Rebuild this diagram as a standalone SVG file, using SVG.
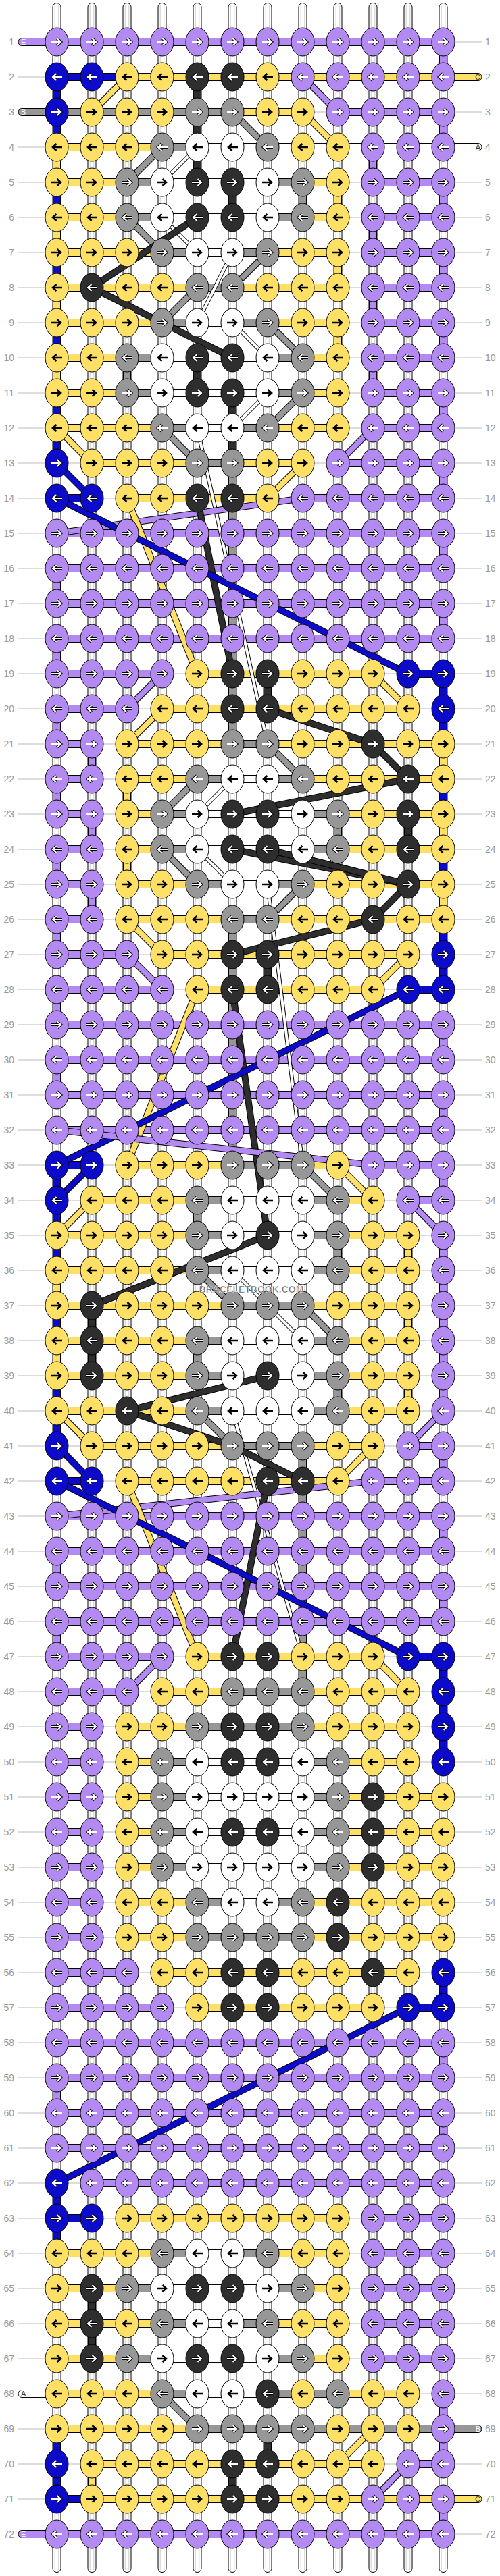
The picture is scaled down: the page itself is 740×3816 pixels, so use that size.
<svg xmlns="http://www.w3.org/2000/svg" width="740" height="3816" viewBox="0 0 740 3816">
<style>
text{font-family:"Liberation Sans",Arial,sans-serif}
.lb{font-size:14px;fill:#999}
.le{text-anchor:end}
.ll{stroke:#bbb;stroke-width:1;fill:none}
.st{fill:#fff;stroke:#000;stroke-width:1}
.si{fill:none;stroke:#ccc;stroke-width:1}
#seg rect{stroke:#000;stroke-width:1}
.P{fill:#b38af2}.Y{fill:#ffe066}.N{fill:#0b0bc9}.K{fill:#2e2e2e}.G{fill:#979797}.W{fill:#fff}
ellipse{stroke:#000;stroke-width:1}
.wo{fill:none;stroke:#000;stroke-width:4.2}
.wi{fill:none;stroke:#fff;stroke-width:2.2}
.bk{fill:none;stroke:#000;stroke-width:2.6}
.o{fill:none;stroke:#000;stroke-width:10}
.ot{fill:none;stroke:#000;stroke-width:6}
.dP{fill:none;stroke:#b38af2;stroke-width:8}
.dY{fill:none;stroke:#ffe066;stroke-width:8}
.dN{fill:none;stroke:#0b0bc9;stroke-width:8}
.dK{fill:none;stroke:#2e2e2e;stroke-width:8}
.dG{fill:none;stroke:#979797;stroke-width:8}
.dW{fill:none;stroke:#fff;stroke-width:4}
.sl{font-size:11px}
</style>
<defs>
<path id="aR" d="M-8 0H5.5M0.5-5L6 0L0.5 5"/>
<path id="aL" d="M8 0H-5.5M-0.5-5L-6 0L-0.5 5"/>
<g id="P1"><ellipse class="P" rx="17" ry="21"/><use href="#aR" class="wo"/><use href="#aR" class="wi"/></g>
<g id="P0"><ellipse class="P" rx="17" ry="21"/><use href="#aL" class="wo"/><use href="#aL" class="wi"/></g>
<g id="N1"><ellipse class="N" rx="17" ry="21"/><use href="#aR" class="wo"/><use href="#aR" class="wi"/></g>
<g id="N0"><ellipse class="N" rx="17" ry="21"/><use href="#aL" class="wo"/><use href="#aL" class="wi"/></g>
<g id="K1"><ellipse class="K" rx="17" ry="21"/><use href="#aR" class="wo"/><use href="#aR" class="wi"/></g>
<g id="K0"><ellipse class="K" rx="17" ry="21"/><use href="#aL" class="wo"/><use href="#aL" class="wi"/></g>
<g id="G1"><ellipse class="G" rx="17" ry="21"/><use href="#aR" class="wo"/><use href="#aR" class="wi"/></g>
<g id="G0"><ellipse class="G" rx="17" ry="21"/><use href="#aL" class="wo"/><use href="#aL" class="wi"/></g>
<g id="Y1"><ellipse class="Y" rx="17" ry="21"/><use href="#aR" class="bk"/></g>
<g id="Y0"><ellipse class="Y" rx="17" ry="21"/><use href="#aL" class="bk"/></g>
<g id="W1"><ellipse class="W" rx="17" ry="21"/><use href="#aR" class="bk"/></g>
<g id="W0"><ellipse class="W" rx="17" ry="21"/><use href="#aL" class="bk"/></g>
</defs>
<rect width="740" height="3816" fill="#fff"/>
<path class="ll" d="M26 62H714M26 114H714M26 166H714M26 218H714M26 270H714M26 322H714M26 374H714M26 426H714M26 478H714M26 530H714M26 582H714M26 634H714M26 686H714M26 738H714M26 790H714M26 842H714M26 894H714M26 946H714M26 998H714M26 1050H714M26 1102H714M26 1154H714M26 1206H714M26 1258H714M26 1310H714M26 1362H714M26 1414H714M26 1466H714M26 1518H714M26 1570H714M26 1622H714M26 1674H714M26 1726H714M26 1778H714M26 1830H714M26 1882H714M26 1934H714M26 1986H714M26 2038H714M26 2090H714M26 2142H714M26 2194H714M26 2246H714M26 2298H714M26 2350H714M26 2402H714M26 2454H714M26 2506H714M26 2558H714M26 2610H714M26 2662H714M26 2714H714M26 2766H714M26 2818H714M26 2870H714M26 2922H714M26 2974H714M26 3026H714M26 3078H714M26 3130H714M26 3182H714M26 3234H714M26 3286H714M26 3338H714M26 3390H714M26 3442H714M26 3494H714M26 3546H714M26 3598H714M26 3650H714M26 3702H714M26 3754H714"/>
<g id="labels" class="lb">
<g class="le"><text x="21" y="67">1</text><text x="21" y="119">2</text><text x="21" y="171">3</text><text x="21" y="223">4</text><text x="21" y="275">5</text><text x="21" y="327">6</text><text x="21" y="379">7</text><text x="21" y="431">8</text><text x="21" y="483">9</text><text x="21" y="535">10</text><text x="21" y="587">11</text><text x="21" y="639">12</text><text x="21" y="691">13</text><text x="21" y="743">14</text><text x="21" y="795">15</text><text x="21" y="847">16</text><text x="21" y="899">17</text><text x="21" y="951">18</text><text x="21" y="1003">19</text><text x="21" y="1055">20</text><text x="21" y="1107">21</text><text x="21" y="1159">22</text><text x="21" y="1211">23</text><text x="21" y="1263">24</text><text x="21" y="1315">25</text><text x="21" y="1367">26</text><text x="21" y="1419">27</text><text x="21" y="1471">28</text><text x="21" y="1523">29</text><text x="21" y="1575">30</text><text x="21" y="1627">31</text><text x="21" y="1679">32</text><text x="21" y="1731">33</text><text x="21" y="1783">34</text><text x="21" y="1835">35</text><text x="21" y="1887">36</text><text x="21" y="1939">37</text><text x="21" y="1991">38</text><text x="21" y="2043">39</text><text x="21" y="2095">40</text><text x="21" y="2147">41</text><text x="21" y="2199">42</text><text x="21" y="2251">43</text><text x="21" y="2303">44</text><text x="21" y="2355">45</text><text x="21" y="2407">46</text><text x="21" y="2459">47</text><text x="21" y="2511">48</text><text x="21" y="2563">49</text><text x="21" y="2615">50</text><text x="21" y="2667">51</text><text x="21" y="2719">52</text><text x="21" y="2771">53</text><text x="21" y="2823">54</text><text x="21" y="2875">55</text><text x="21" y="2927">56</text><text x="21" y="2979">57</text><text x="21" y="3031">58</text><text x="21" y="3083">59</text><text x="21" y="3135">60</text><text x="21" y="3187">61</text><text x="21" y="3239">62</text><text x="21" y="3291">63</text><text x="21" y="3343">64</text><text x="21" y="3395">65</text><text x="21" y="3447">66</text><text x="21" y="3499">67</text><text x="21" y="3551">68</text><text x="21" y="3603">69</text><text x="21" y="3655">70</text><text x="21" y="3707">71</text><text x="21" y="3759">72</text></g>
<g><text x="718" y="67">1</text><text x="718" y="119">2</text><text x="718" y="171">3</text><text x="718" y="223">4</text><text x="718" y="275">5</text><text x="718" y="327">6</text><text x="718" y="379">7</text><text x="718" y="431">8</text><text x="718" y="483">9</text><text x="718" y="535">10</text><text x="718" y="587">11</text><text x="718" y="639">12</text><text x="718" y="691">13</text><text x="718" y="743">14</text><text x="718" y="795">15</text><text x="718" y="847">16</text><text x="718" y="899">17</text><text x="718" y="951">18</text><text x="718" y="1003">19</text><text x="718" y="1055">20</text><text x="718" y="1107">21</text><text x="718" y="1159">22</text><text x="718" y="1211">23</text><text x="718" y="1263">24</text><text x="718" y="1315">25</text><text x="718" y="1367">26</text><text x="718" y="1419">27</text><text x="718" y="1471">28</text><text x="718" y="1523">29</text><text x="718" y="1575">30</text><text x="718" y="1627">31</text><text x="718" y="1679">32</text><text x="718" y="1731">33</text><text x="718" y="1783">34</text><text x="718" y="1835">35</text><text x="718" y="1887">36</text><text x="718" y="1939">37</text><text x="718" y="1991">38</text><text x="718" y="2043">39</text><text x="718" y="2095">40</text><text x="718" y="2147">41</text><text x="718" y="2199">42</text><text x="718" y="2251">43</text><text x="718" y="2303">44</text><text x="718" y="2355">45</text><text x="718" y="2407">46</text><text x="718" y="2459">47</text><text x="718" y="2511">48</text><text x="718" y="2563">49</text><text x="718" y="2615">50</text><text x="718" y="2667">51</text><text x="718" y="2719">52</text><text x="718" y="2771">53</text><text x="718" y="2823">54</text><text x="718" y="2875">55</text><text x="718" y="2927">56</text><text x="718" y="2979">57</text><text x="718" y="3031">58</text><text x="718" y="3083">59</text><text x="718" y="3135">60</text><text x="718" y="3187">61</text><text x="718" y="3239">62</text><text x="718" y="3291">63</text><text x="718" y="3343">64</text><text x="718" y="3395">65</text><text x="718" y="3447">66</text><text x="718" y="3499">67</text><text x="718" y="3551">68</text><text x="718" y="3603">69</text><text x="718" y="3655">70</text><text x="718" y="3707">71</text><text x="718" y="3759">72</text></g>
</g>
<g id="connectors">
<g id="strings">
<rect class="st" x="78" y="4.5" width="12" height="3806" rx="6"/><rect class="st" x="130" y="4.5" width="12" height="3806" rx="6"/><rect class="st" x="182" y="4.5" width="12" height="3806" rx="6"/><rect class="st" x="234" y="4.5" width="12" height="3806" rx="6"/><rect class="st" x="286" y="4.5" width="12" height="3806" rx="6"/><rect class="st" x="338" y="4.5" width="12" height="3806" rx="6"/><rect class="st" x="390" y="4.5" width="12" height="3806" rx="6"/><rect class="st" x="442" y="4.5" width="12" height="3806" rx="6"/><rect class="st" x="494" y="4.5" width="12" height="3806" rx="6"/><rect class="st" x="546" y="4.5" width="12" height="3806" rx="6"/><rect class="st" x="598" y="4.5" width="12" height="3806" rx="6"/><rect class="st" x="650" y="4.5" width="12" height="3806" rx="6"/>
<path class="si" d="M81.2 8V3807M86.8 8V3807M133.2 8V3807M138.8 8V3807M185.2 8V3807M190.8 8V3807M237.2 8V3807M242.8 8V3807M289.2 8V3807M294.8 8V3807M341.2 8V3807M346.8 8V3807M393.2 8V3807M398.8 8V3807M445.2 8V3807M450.8 8V3807M497.2 8V3807M502.8 8V3807M549.2 8V3807M554.8 8V3807M601.2 8V3807M606.8 8V3807M653.2 8V3807M658.8 8V3807"/>
</g>
<g id="seg">
<rect class="P" x="27" y="56.5" width="62" height="11" rx="5.5"/>
<rect class="Y" x="651" y="108.5" width="62" height="11" rx="5.5"/>
<rect class="G" x="27" y="160.5" width="62" height="11" rx="5.5"/>
<rect class="W" x="651" y="212.5" width="62" height="11" rx="5.5"/>
<rect class="W" x="27" y="3540.5" width="62" height="11" rx="5.5"/>
<rect class="G" x="651" y="3592.5" width="62" height="11" rx="5.5"/>
<rect class="Y" x="651" y="3696.5" width="62" height="11" rx="5.5"/>
<rect class="P" x="27" y="3748.5" width="62" height="11" rx="5.5"/>
<g transform="translate(0,62)"><rect class="P" x="84" y="-5.5" width="572" height="11"/><rect class="P" x="650.5" y="0" width="11" height="52"/></g>
<g transform="translate(0,114)"><rect class="N" x="84" y="-5.5" width="104" height="11"/><rect class="Y" x="188" y="-5.5" width="468" height="11"/><rect class="N" x="78.5" y="0" width="11" height="52"/><rect class="K" x="286.5" y="0" width="11" height="52"/></g>
<g transform="translate(0,166)"><rect class="G" x="84" y="-5.5" width="260" height="11"/><rect class="Y" x="344" y="-5.5" width="104" height="11"/><rect class="P" x="500" y="-5.5" width="156" height="11"/><rect class="N" x="78.5" y="0" width="11" height="52"/><rect class="K" x="286.5" y="0" width="11" height="52"/><rect class="P" x="650.5" y="0" width="11" height="52"/></g>
<g transform="translate(0,218)"><rect class="Y" x="84" y="-5.5" width="156" height="11"/><rect class="G" x="240" y="-5.5" width="52" height="11"/><rect class="W" x="292" y="-5.5" width="364" height="11"/><rect class="Y" x="78.5" y="0" width="11" height="52"/><rect class="K" x="286.5" y="0" width="11" height="52"/><rect class="P" x="546.5" y="0" width="11" height="52"/></g>
<g transform="translate(0,270)"><rect class="Y" x="84" y="-5.5" width="104" height="11"/><rect class="G" x="188" y="-5.5" width="52" height="11"/><rect class="W" x="240" y="-5.5" width="156" height="11"/><rect class="G" x="396" y="-5.5" width="52" height="11"/><rect class="Y" x="448" y="-5.5" width="52" height="11"/><rect class="P" x="552" y="-5.5" width="104" height="11"/><rect class="N" x="78.5" y="0" width="11" height="52"/><rect class="K" x="338.5" y="0" width="11" height="52"/><rect class="G" x="442.5" y="0" width="11" height="52"/><rect class="Y" x="494.5" y="0" width="11" height="52"/><rect class="P" x="650.5" y="0" width="11" height="52"/></g>
<g transform="translate(0,322)"><rect class="Y" x="84" y="-5.5" width="104" height="11"/><rect class="G" x="188" y="-5.5" width="52" height="11"/><rect class="W" x="240" y="-5.5" width="156" height="11"/><rect class="G" x="396" y="-5.5" width="52" height="11"/><rect class="Y" x="448" y="-5.5" width="52" height="11"/><rect class="P" x="552" y="-5.5" width="104" height="11"/><rect class="Y" x="78.5" y="0" width="11" height="52"/><rect class="P" x="546.5" y="0" width="11" height="52"/></g>
<g transform="translate(0,374)"><rect class="Y" x="84" y="-5.5" width="156" height="11"/><rect class="G" x="240" y="-5.5" width="52" height="11"/><rect class="W" x="292" y="-5.5" width="52" height="11"/><rect class="G" x="344" y="-5.5" width="52" height="11"/><rect class="Y" x="396" y="-5.5" width="104" height="11"/><rect class="P" x="552" y="-5.5" width="104" height="11"/><rect class="N" x="78.5" y="0" width="11" height="52"/><rect class="Y" x="494.5" y="0" width="11" height="52"/><rect class="P" x="650.5" y="0" width="11" height="52"/></g>
<g transform="translate(0,426)"><rect class="Y" x="84" y="-5.5" width="208" height="11"/><rect class="G" x="292" y="-5.5" width="52" height="11"/><rect class="Y" x="344" y="-5.5" width="156" height="11"/><rect class="P" x="552" y="-5.5" width="104" height="11"/><rect class="Y" x="78.5" y="0" width="11" height="52"/><rect class="P" x="546.5" y="0" width="11" height="52"/></g>
<g transform="translate(0,478)"><rect class="Y" x="84" y="-5.5" width="156" height="11"/><rect class="G" x="240" y="-5.5" width="52" height="11"/><rect class="W" x="292" y="-5.5" width="52" height="11"/><rect class="G" x="344" y="-5.5" width="52" height="11"/><rect class="Y" x="396" y="-5.5" width="104" height="11"/><rect class="P" x="552" y="-5.5" width="104" height="11"/><rect class="N" x="78.5" y="0" width="11" height="52"/><rect class="Y" x="494.5" y="0" width="11" height="52"/><rect class="P" x="650.5" y="0" width="11" height="52"/></g>
<g transform="translate(0,530)"><rect class="Y" x="84" y="-5.5" width="104" height="11"/><rect class="G" x="188" y="-5.5" width="52" height="11"/><rect class="W" x="240" y="-5.5" width="156" height="11"/><rect class="G" x="396" y="-5.5" width="52" height="11"/><rect class="Y" x="448" y="-5.5" width="52" height="11"/><rect class="P" x="552" y="-5.5" width="104" height="11"/><rect class="Y" x="78.5" y="0" width="11" height="52"/><rect class="G" x="182.5" y="0" width="11" height="52"/><rect class="K" x="286.5" y="0" width="11" height="52"/><rect class="P" x="546.5" y="0" width="11" height="52"/></g>
<g transform="translate(0,582)"><rect class="Y" x="84" y="-5.5" width="104" height="11"/><rect class="G" x="188" y="-5.5" width="52" height="11"/><rect class="W" x="240" y="-5.5" width="156" height="11"/><rect class="G" x="396" y="-5.5" width="52" height="11"/><rect class="Y" x="448" y="-5.5" width="52" height="11"/><rect class="P" x="552" y="-5.5" width="104" height="11"/><rect class="N" x="78.5" y="0" width="11" height="52"/><rect class="K" x="338.5" y="0" width="11" height="52"/><rect class="P" x="650.5" y="0" width="11" height="52"/></g>
<g transform="translate(0,634)"><rect class="Y" x="84" y="-5.5" width="156" height="11"/><rect class="G" x="240" y="-5.5" width="52" height="11"/><rect class="W" x="292" y="-5.5" width="52" height="11"/><rect class="G" x="344" y="-5.5" width="52" height="11"/><rect class="Y" x="396" y="-5.5" width="104" height="11"/><rect class="P" x="552" y="-5.5" width="104" height="11"/><rect class="N" x="78.5" y="0" width="11" height="52"/><rect class="K" x="338.5" y="0" width="11" height="52"/></g>
<g transform="translate(0,686)"><rect class="Y" x="136" y="-5.5" width="156" height="11"/><rect class="G" x="292" y="-5.5" width="52" height="11"/><rect class="Y" x="344" y="-5.5" width="104" height="11"/><rect class="P" x="500" y="-5.5" width="156" height="11"/><rect class="G" x="338.5" y="0" width="11" height="52"/><rect class="P" x="650.5" y="0" width="11" height="52"/></g>
<g transform="translate(0,738)"><rect class="N" x="84" y="-5.5" width="52" height="11"/><rect class="Y" x="188" y="-5.5" width="208" height="11"/><rect class="P" x="448" y="-5.5" width="208" height="11"/><rect class="G" x="338.5" y="0" width="11" height="52"/></g>
<g transform="translate(0,790)"><rect class="P" x="84" y="-5.5" width="572" height="11"/><rect class="G" x="338.5" y="0" width="11" height="52"/><rect class="P" x="650.5" y="0" width="11" height="52"/></g>
<g transform="translate(0,842)"><rect class="P" x="84" y="-5.5" width="572" height="11"/><rect class="P" x="78.5" y="0" width="11" height="52"/><rect class="G" x="338.5" y="0" width="11" height="52"/></g>
<g transform="translate(0,894)"><rect class="P" x="84" y="-5.5" width="572" height="11"/><rect class="G" x="338.5" y="0" width="11" height="52"/><rect class="P" x="650.5" y="0" width="11" height="52"/></g>
<g transform="translate(0,946)"><rect class="P" x="84" y="-5.5" width="572" height="11"/><rect class="P" x="78.5" y="0" width="11" height="52"/><rect class="G" x="338.5" y="0" width="11" height="52"/></g>
<g transform="translate(0,998)"><rect class="P" x="84" y="-5.5" width="156" height="11"/><rect class="Y" x="292" y="-5.5" width="260" height="11"/><rect class="N" x="604" y="-5.5" width="52" height="11"/><rect class="G" x="338.5" y="0" width="11" height="52"/><rect class="K" x="390.5" y="0" width="11" height="52"/><rect class="N" x="650.5" y="0" width="11" height="52"/></g>
<g transform="translate(0,1050)"><rect class="P" x="84" y="-5.5" width="104" height="11"/><rect class="Y" x="240" y="-5.5" width="364" height="11"/><rect class="P" x="78.5" y="0" width="11" height="52"/><rect class="G" x="338.5" y="0" width="11" height="52"/><rect class="N" x="650.5" y="0" width="11" height="52"/></g>
<g transform="translate(0,1102)"><rect class="P" x="84" y="-5.5" width="52" height="11"/><rect class="Y" x="188" y="-5.5" width="156" height="11"/><rect class="G" x="344" y="-5.5" width="52" height="11"/><rect class="Y" x="396" y="-5.5" width="260" height="11"/><rect class="P" x="130.5" y="0" width="11" height="52"/><rect class="Y" x="650.5" y="0" width="11" height="52"/></g>
<g transform="translate(0,1154)"><rect class="P" x="84" y="-5.5" width="52" height="11"/><rect class="Y" x="188" y="-5.5" width="104" height="11"/><rect class="G" x="292" y="-5.5" width="52" height="11"/><rect class="W" x="344" y="-5.5" width="52" height="11"/><rect class="G" x="396" y="-5.5" width="52" height="11"/><rect class="Y" x="448" y="-5.5" width="208" height="11"/><rect class="P" x="78.5" y="0" width="11" height="52"/><rect class="Y" x="182.5" y="0" width="11" height="52"/><rect class="N" x="650.5" y="0" width="11" height="52"/></g>
<g transform="translate(0,1206)"><rect class="P" x="84" y="-5.5" width="52" height="11"/><rect class="Y" x="188" y="-5.5" width="52" height="11"/><rect class="G" x="240" y="-5.5" width="52" height="11"/><rect class="W" x="292" y="-5.5" width="156" height="11"/><rect class="G" x="448" y="-5.5" width="52" height="11"/><rect class="Y" x="500" y="-5.5" width="156" height="11"/><rect class="P" x="130.5" y="0" width="11" height="52"/><rect class="G" x="494.5" y="0" width="11" height="52"/><rect class="K" x="598.5" y="0" width="11" height="52"/><rect class="Y" x="650.5" y="0" width="11" height="52"/></g>
<g transform="translate(0,1258)"><rect class="P" x="84" y="-5.5" width="52" height="11"/><rect class="Y" x="188" y="-5.5" width="52" height="11"/><rect class="G" x="240" y="-5.5" width="52" height="11"/><rect class="W" x="292" y="-5.5" width="156" height="11"/><rect class="G" x="448" y="-5.5" width="52" height="11"/><rect class="Y" x="500" y="-5.5" width="156" height="11"/><rect class="P" x="78.5" y="0" width="11" height="52"/><rect class="Y" x="182.5" y="0" width="11" height="52"/><rect class="N" x="650.5" y="0" width="11" height="52"/></g>
<g transform="translate(0,1310)"><rect class="P" x="84" y="-5.5" width="52" height="11"/><rect class="Y" x="188" y="-5.5" width="104" height="11"/><rect class="G" x="292" y="-5.5" width="52" height="11"/><rect class="W" x="344" y="-5.5" width="52" height="11"/><rect class="G" x="396" y="-5.5" width="52" height="11"/><rect class="Y" x="448" y="-5.5" width="208" height="11"/><rect class="P" x="130.5" y="0" width="11" height="52"/><rect class="Y" x="650.5" y="0" width="11" height="52"/></g>
<g transform="translate(0,1362)"><rect class="P" x="84" y="-5.5" width="52" height="11"/><rect class="Y" x="188" y="-5.5" width="156" height="11"/><rect class="G" x="344" y="-5.5" width="52" height="11"/><rect class="Y" x="396" y="-5.5" width="260" height="11"/><rect class="P" x="78.5" y="0" width="11" height="52"/><rect class="G" x="338.5" y="0" width="11" height="52"/><rect class="N" x="650.5" y="0" width="11" height="52"/></g>
<g transform="translate(0,1414)"><rect class="P" x="84" y="-5.5" width="104" height="11"/><rect class="Y" x="240" y="-5.5" width="364" height="11"/><rect class="G" x="338.5" y="0" width="11" height="52"/><rect class="K" x="390.5" y="0" width="11" height="52"/><rect class="N" x="650.5" y="0" width="11" height="52"/></g>
<g transform="translate(0,1466)"><rect class="P" x="84" y="-5.5" width="156" height="11"/><rect class="Y" x="292" y="-5.5" width="260" height="11"/><rect class="N" x="604" y="-5.5" width="52" height="11"/><rect class="P" x="78.5" y="0" width="11" height="52"/><rect class="G" x="338.5" y="0" width="11" height="52"/></g>
<g transform="translate(0,1518)"><rect class="P" x="84" y="-5.5" width="572" height="11"/><rect class="G" x="338.5" y="0" width="11" height="52"/><rect class="P" x="650.5" y="0" width="11" height="52"/></g>
<g transform="translate(0,1570)"><rect class="P" x="84" y="-5.5" width="572" height="11"/><rect class="P" x="78.5" y="0" width="11" height="52"/><rect class="G" x="338.5" y="0" width="11" height="52"/></g>
<g transform="translate(0,1622)"><rect class="P" x="84" y="-5.5" width="572" height="11"/><rect class="G" x="338.5" y="0" width="11" height="52"/><rect class="P" x="650.5" y="0" width="11" height="52"/></g>
<g transform="translate(0,1674)"><rect class="P" x="84" y="-5.5" width="572" height="11"/><rect class="G" x="338.5" y="0" width="11" height="52"/></g>
<g transform="translate(0,1726)"><rect class="N" x="84" y="-5.5" width="52" height="11"/><rect class="Y" x="188" y="-5.5" width="156" height="11"/><rect class="G" x="344" y="-5.5" width="104" height="11"/><rect class="Y" x="448" y="-5.5" width="52" height="11"/><rect class="P" x="552" y="-5.5" width="104" height="11"/><rect class="N" x="78.5" y="0" width="11" height="52"/><rect class="P" x="650.5" y="0" width="11" height="52"/></g>
<g transform="translate(0,1778)"><rect class="Y" x="136" y="-5.5" width="156" height="11"/><rect class="G" x="292" y="-5.5" width="52" height="11"/><rect class="W" x="344" y="-5.5" width="104" height="11"/><rect class="G" x="448" y="-5.5" width="52" height="11"/><rect class="Y" x="500" y="-5.5" width="52" height="11"/><rect class="P" x="604" y="-5.5" width="52" height="11"/><rect class="N" x="78.5" y="0" width="11" height="52"/><rect class="G" x="286.5" y="0" width="11" height="52"/></g>
<g transform="translate(0,1830)"><rect class="Y" x="84" y="-5.5" width="208" height="11"/><rect class="G" x="292" y="-5.5" width="52" height="11"/><rect class="W" x="344" y="-5.5" width="104" height="11"/><rect class="G" x="448" y="-5.5" width="52" height="11"/><rect class="Y" x="500" y="-5.5" width="104" height="11"/><rect class="N" x="78.5" y="0" width="11" height="52"/><rect class="G" x="494.5" y="0" width="11" height="52"/><rect class="Y" x="598.5" y="0" width="11" height="52"/><rect class="P" x="650.5" y="0" width="11" height="52"/></g>
<g transform="translate(0,1882)"><rect class="Y" x="84" y="-5.5" width="208" height="11"/><rect class="G" x="292" y="-5.5" width="52" height="11"/><rect class="W" x="344" y="-5.5" width="104" height="11"/><rect class="G" x="448" y="-5.5" width="52" height="11"/><rect class="Y" x="500" y="-5.5" width="104" height="11"/><rect class="Y" x="78.5" y="0" width="11" height="52"/><rect class="P" x="650.5" y="0" width="11" height="52"/></g>
<g transform="translate(0,1934)"><rect class="Y" x="84" y="-5.5" width="260" height="11"/><rect class="G" x="344" y="-5.5" width="104" height="11"/><rect class="Y" x="448" y="-5.5" width="156" height="11"/><rect class="N" x="78.5" y="0" width="11" height="52"/><rect class="K" x="130.5" y="0" width="11" height="52"/><rect class="Y" x="598.5" y="0" width="11" height="52"/><rect class="P" x="650.5" y="0" width="11" height="52"/></g>
<g transform="translate(0,1986)"><rect class="Y" x="84" y="-5.5" width="208" height="11"/><rect class="G" x="292" y="-5.5" width="52" height="11"/><rect class="W" x="344" y="-5.5" width="104" height="11"/><rect class="G" x="448" y="-5.5" width="52" height="11"/><rect class="Y" x="500" y="-5.5" width="104" height="11"/><rect class="Y" x="78.5" y="0" width="11" height="52"/><rect class="K" x="130.5" y="0" width="11" height="52"/><rect class="G" x="286.5" y="0" width="11" height="52"/><rect class="P" x="650.5" y="0" width="11" height="52"/></g>
<g transform="translate(0,2038)"><rect class="Y" x="84" y="-5.5" width="208" height="11"/><rect class="G" x="292" y="-5.5" width="52" height="11"/><rect class="W" x="344" y="-5.5" width="104" height="11"/><rect class="G" x="448" y="-5.5" width="52" height="11"/><rect class="Y" x="500" y="-5.5" width="104" height="11"/><rect class="N" x="78.5" y="0" width="11" height="52"/><rect class="G" x="494.5" y="0" width="11" height="52"/><rect class="Y" x="598.5" y="0" width="11" height="52"/><rect class="P" x="650.5" y="0" width="11" height="52"/></g>
<g transform="translate(0,2090)"><rect class="Y" x="84" y="-5.5" width="208" height="11"/><rect class="G" x="292" y="-5.5" width="52" height="11"/><rect class="W" x="344" y="-5.5" width="104" height="11"/><rect class="G" x="448" y="-5.5" width="52" height="11"/><rect class="Y" x="500" y="-5.5" width="104" height="11"/><rect class="N" x="78.5" y="0" width="11" height="52"/></g>
<g transform="translate(0,2142)"><rect class="Y" x="136" y="-5.5" width="208" height="11"/><rect class="G" x="344" y="-5.5" width="104" height="11"/><rect class="Y" x="448" y="-5.5" width="104" height="11"/><rect class="P" x="604" y="-5.5" width="52" height="11"/><rect class="G" x="442.5" y="0" width="11" height="52"/><rect class="P" x="650.5" y="0" width="11" height="52"/></g>
<g transform="translate(0,2194)"><rect class="N" x="84" y="-5.5" width="52" height="11"/><rect class="Y" x="188" y="-5.5" width="312" height="11"/><rect class="P" x="552" y="-5.5" width="104" height="11"/><rect class="G" x="442.5" y="0" width="11" height="52"/></g>
<g transform="translate(0,2246)"><rect class="P" x="84" y="-5.5" width="572" height="11"/><rect class="G" x="442.5" y="0" width="11" height="52"/><rect class="P" x="650.5" y="0" width="11" height="52"/></g>
<g transform="translate(0,2298)"><rect class="P" x="84" y="-5.5" width="572" height="11"/><rect class="P" x="78.5" y="0" width="11" height="52"/><rect class="G" x="442.5" y="0" width="11" height="52"/></g>
<g transform="translate(0,2350)"><rect class="P" x="84" y="-5.5" width="572" height="11"/><rect class="G" x="442.5" y="0" width="11" height="52"/><rect class="P" x="650.5" y="0" width="11" height="52"/></g>
<g transform="translate(0,2402)"><rect class="P" x="84" y="-5.5" width="572" height="11"/><rect class="P" x="78.5" y="0" width="11" height="52"/><rect class="G" x="442.5" y="0" width="11" height="52"/></g>
<g transform="translate(0,2454)"><rect class="P" x="84" y="-5.5" width="156" height="11"/><rect class="Y" x="292" y="-5.5" width="260" height="11"/><rect class="N" x="604" y="-5.5" width="52" height="11"/><rect class="G" x="442.5" y="0" width="11" height="52"/><rect class="N" x="650.5" y="0" width="11" height="52"/></g>
<g transform="translate(0,2506)"><rect class="P" x="84" y="-5.5" width="104" height="11"/><rect class="Y" x="240" y="-5.5" width="104" height="11"/><rect class="G" x="344" y="-5.5" width="104" height="11"/><rect class="Y" x="448" y="-5.5" width="156" height="11"/><rect class="N" x="650.5" y="0" width="11" height="52"/></g>
<g transform="translate(0,2558)"><rect class="P" x="84" y="-5.5" width="52" height="11"/><rect class="Y" x="188" y="-5.5" width="104" height="11"/><rect class="G" x="292" y="-5.5" width="156" height="11"/><rect class="Y" x="448" y="-5.5" width="156" height="11"/><rect class="N" x="650.5" y="0" width="11" height="52"/></g>
<g transform="translate(0,2610)"><rect class="P" x="84" y="-5.5" width="52" height="11"/><rect class="Y" x="188" y="-5.5" width="52" height="11"/><rect class="G" x="240" y="-5.5" width="52" height="11"/><rect class="W" x="292" y="-5.5" width="156" height="11"/><rect class="G" x="448" y="-5.5" width="52" height="11"/><rect class="Y" x="500" y="-5.5" width="104" height="11"/></g>
<g transform="translate(0,2662)"><rect class="P" x="84" y="-5.5" width="52" height="11"/><rect class="Y" x="188" y="-5.5" width="52" height="11"/><rect class="G" x="240" y="-5.5" width="52" height="11"/><rect class="W" x="292" y="-5.5" width="156" height="11"/><rect class="G" x="448" y="-5.5" width="52" height="11"/><rect class="Y" x="500" y="-5.5" width="156" height="11"/></g>
<g transform="translate(0,2714)"><rect class="P" x="84" y="-5.5" width="52" height="11"/><rect class="Y" x="188" y="-5.5" width="52" height="11"/><rect class="G" x="240" y="-5.5" width="52" height="11"/><rect class="W" x="292" y="-5.5" width="156" height="11"/><rect class="G" x="448" y="-5.5" width="52" height="11"/><rect class="Y" x="500" y="-5.5" width="156" height="11"/></g>
<g transform="translate(0,2766)"><rect class="P" x="84" y="-5.5" width="52" height="11"/><rect class="Y" x="188" y="-5.5" width="52" height="11"/><rect class="G" x="240" y="-5.5" width="52" height="11"/><rect class="W" x="292" y="-5.5" width="156" height="11"/><rect class="G" x="448" y="-5.5" width="52" height="11"/><rect class="Y" x="500" y="-5.5" width="156" height="11"/></g>
<g transform="translate(0,2818)"><rect class="P" x="84" y="-5.5" width="52" height="11"/><rect class="Y" x="188" y="-5.5" width="104" height="11"/><rect class="G" x="292" y="-5.5" width="52" height="11"/><rect class="W" x="344" y="-5.5" width="52" height="11"/><rect class="G" x="396" y="-5.5" width="52" height="11"/><rect class="Y" x="448" y="-5.5" width="208" height="11"/></g>
<g transform="translate(0,2870)"><rect class="P" x="84" y="-5.5" width="52" height="11"/><rect class="Y" x="188" y="-5.5" width="104" height="11"/><rect class="G" x="292" y="-5.5" width="156" height="11"/><rect class="Y" x="448" y="-5.5" width="208" height="11"/></g>
<g transform="translate(0,2922)"><rect class="P" x="84" y="-5.5" width="104" height="11"/><rect class="Y" x="240" y="-5.5" width="364" height="11"/><rect class="N" x="650.5" y="0" width="11" height="52"/></g>
<g transform="translate(0,2974)"><rect class="P" x="84" y="-5.5" width="156" height="11"/><rect class="Y" x="292" y="-5.5" width="260" height="11"/><rect class="N" x="604" y="-5.5" width="52" height="11"/></g>
<g transform="translate(0,3026)"><rect class="P" x="84" y="-5.5" width="572" height="11"/><rect class="P" x="650.5" y="0" width="11" height="52"/></g>
<g transform="translate(0,3078)"><rect class="P" x="84" y="-5.5" width="572" height="11"/><rect class="P" x="78.5" y="0" width="11" height="52"/></g>
<g transform="translate(0,3130)"><rect class="P" x="84" y="-5.5" width="572" height="11"/><rect class="P" x="650.5" y="0" width="11" height="52"/></g>
<g transform="translate(0,3182)"><rect class="P" x="84" y="-5.5" width="572" height="11"/></g>
<g transform="translate(0,3234)"><rect class="P" x="136" y="-5.5" width="520" height="11"/><rect class="N" x="78.5" y="0" width="11" height="52"/></g>
<g transform="translate(0,3286)"><rect class="N" x="84" y="-5.5" width="52" height="11"/><rect class="Y" x="188" y="-5.5" width="312" height="11"/><rect class="P" x="552" y="-5.5" width="104" height="11"/><rect class="N" x="78.5" y="0" width="11" height="52"/></g>
<g transform="translate(0,3338)"><rect class="Y" x="84" y="-5.5" width="156" height="11"/><rect class="G" x="240" y="-5.5" width="52" height="11"/><rect class="W" x="292" y="-5.5" width="52" height="11"/><rect class="G" x="344" y="-5.5" width="52" height="11"/><rect class="Y" x="396" y="-5.5" width="104" height="11"/><rect class="P" x="552" y="-5.5" width="104" height="11"/></g>
<g transform="translate(0,3390)"><rect class="Y" x="84" y="-5.5" width="104" height="11"/><rect class="G" x="188" y="-5.5" width="52" height="11"/><rect class="W" x="240" y="-5.5" width="156" height="11"/><rect class="G" x="396" y="-5.5" width="52" height="11"/><rect class="Y" x="448" y="-5.5" width="52" height="11"/><rect class="P" x="552" y="-5.5" width="104" height="11"/><rect class="K" x="130.5" y="0" width="11" height="52"/></g>
<g transform="translate(0,3442)"><rect class="Y" x="84" y="-5.5" width="156" height="11"/><rect class="G" x="240" y="-5.5" width="52" height="11"/><rect class="W" x="292" y="-5.5" width="52" height="11"/><rect class="G" x="344" y="-5.5" width="52" height="11"/><rect class="Y" x="396" y="-5.5" width="104" height="11"/><rect class="P" x="552" y="-5.5" width="104" height="11"/><rect class="K" x="130.5" y="0" width="11" height="52"/></g>
<g transform="translate(0,3494)"><rect class="Y" x="84" y="-5.5" width="104" height="11"/><rect class="G" x="188" y="-5.5" width="52" height="11"/><rect class="W" x="240" y="-5.5" width="156" height="11"/><rect class="G" x="396" y="-5.5" width="52" height="11"/><rect class="Y" x="448" y="-5.5" width="52" height="11"/><rect class="P" x="552" y="-5.5" width="104" height="11"/></g>
<g transform="translate(0,3546)"><rect class="Y" x="84" y="-5.5" width="156" height="11"/><rect class="G" x="240" y="-5.5" width="52" height="11"/><rect class="W" x="292" y="-5.5" width="104" height="11"/><rect class="G" x="396" y="-5.5" width="104" height="11"/><rect class="Y" x="500" y="-5.5" width="104" height="11"/><rect class="P" x="650.5" y="0" width="11" height="52"/></g>
<g transform="translate(0,3598)"><rect class="Y" x="84" y="-5.5" width="208" height="11"/><rect class="G" x="292" y="-5.5" width="364" height="11"/><rect class="N" x="78.5" y="0" width="11" height="52"/><rect class="K" x="390.5" y="0" width="11" height="52"/><rect class="P" x="650.5" y="0" width="11" height="52"/></g>
<g transform="translate(0,3650)"><rect class="Y" x="136" y="-5.5" width="416" height="11"/><rect class="P" x="604" y="-5.5" width="52" height="11"/><rect class="N" x="78.5" y="0" width="11" height="52"/><rect class="Y" x="130.5" y="0" width="11" height="52"/><rect class="K" x="338.5" y="0" width="11" height="52"/></g>
<g transform="translate(0,3702)"><rect class="N" x="84" y="-5.5" width="52" height="11"/><rect class="Y" x="136" y="-5.5" width="520" height="11"/><rect class="P" x="650.5" y="0" width="11" height="52"/></g>
<g transform="translate(0,3754)"><rect class="P" x="84" y="-5.5" width="572" height="11"/></g>
</g>
<g id="diagonals">
<path class="o" d="M188 114L136 166"/><path class="dY" d="M188 114L136 166"/>
<path class="o" d="M448 114L500 166"/><path class="dP" d="M448 114L500 166"/>
<path class="o" d="M344 166L396 218"/><path class="dG" d="M344 166L396 218"/>
<path class="o" d="M448 166L500 218"/><path class="dY" d="M448 166L500 218"/>
<path class="o" d="M240 218L188 270"/><path class="dG" d="M240 218L188 270"/>
<path class="ot" d="M292 218L240 270"/><path class="dW" d="M292 218L240 270"/>
<path class="o" d="M188 322L240 374"/><path class="dG" d="M188 322L240 374"/>
<path class="ot" d="M240 322L292 374"/><path class="dW" d="M240 322L292 374"/>
<path class="o" d="M292 322L136 426"/><path class="dK" d="M292 322L136 426"/>
<path class="o" d="M396 374L344 426"/><path class="dG" d="M396 374L344 426"/>
<path class="ot" d="M344 374L292 478"/><path class="dW" d="M344 374L292 478"/>
<path class="o" d="M136 426L240 478L344 530"/><path class="dK" d="M136 426L240 478L344 530"/>
<path class="o" d="M292 426L240 478"/><path class="dG" d="M292 426L240 478"/>
<path class="o" d="M396 478L448 530"/><path class="dG" d="M396 478L448 530"/>
<path class="ot" d="M344 478L396 530"/><path class="dW" d="M344 478L396 530"/>
<path class="o" d="M448 582L396 634"/><path class="dG" d="M448 582L396 634"/>
<path class="ot" d="M396 582L344 634"/><path class="dW" d="M396 582L344 634"/>
<path class="o" d="M84 634L136 686"/><path class="dY" d="M84 634L136 686"/>
<path class="o" d="M240 634L292 686"/><path class="dG" d="M240 634L292 686"/>
<path class="o" d="M552 634L500 686"/><path class="dP" d="M552 634L500 686"/>
<path class="ot" d="M292 634L396 1102"/><path class="dW" d="M292 634L396 1102"/>
<path class="o" d="M84 686L136 738"/><path class="dN" d="M84 686L136 738"/>
<path class="o" d="M448 686L396 738"/><path class="dY" d="M448 686L396 738"/>
<path class="o" d="M448 738L84 790"/><path class="dP" d="M448 738L84 790"/>
<path class="o" d="M188 738L292 998"/><path class="dY" d="M188 738L292 998"/>
<path class="o" d="M292 738L344 998"/><path class="dK" d="M292 738L344 998"/>
<path class="o" d="M84 738L604 998"/><path class="dN" d="M84 738L604 998"/>
<path class="o" d="M240 998L188 1050"/><path class="dP" d="M240 998L188 1050"/>
<path class="o" d="M552 998L604 1050"/><path class="dY" d="M552 998L604 1050"/>
<path class="o" d="M240 1050L188 1102"/><path class="dY" d="M240 1050L188 1102"/>
<path class="o" d="M396 1050L552 1102"/><path class="dK" d="M396 1050L552 1102"/>
<path class="o" d="M396 1102L448 1154"/><path class="dG" d="M396 1102L448 1154"/>
<path class="o" d="M552 1102L604 1154"/><path class="dK" d="M552 1102L604 1154"/>
<path class="o" d="M292 1154L240 1206"/><path class="dG" d="M292 1154L240 1206"/>
<path class="ot" d="M344 1154L292 1206"/><path class="dW" d="M344 1154L292 1206"/>
<path class="o" d="M604 1154L344 1206"/><path class="dK" d="M604 1154L344 1206"/>
<path class="o" d="M240 1258L292 1310"/><path class="dG" d="M240 1258L292 1310"/>
<path class="ot" d="M292 1258L344 1310"/><path class="dW" d="M292 1258L344 1310"/>
<path class="o" d="M344 1258L604 1310"/><path class="dK" d="M344 1258L604 1310"/>
<path class="o" d="M396 1258L604 1310"/><path class="dK" d="M396 1258L604 1310"/>
<path class="o" d="M448 1310L396 1362"/><path class="dG" d="M448 1310L396 1362"/>
<path class="o" d="M604 1310L552 1362"/><path class="dK" d="M604 1310L552 1362"/>
<path class="ot" d="M396 1310L448 1726"/><path class="dW" d="M396 1310L448 1726"/>
<path class="o" d="M188 1362L240 1414"/><path class="dY" d="M188 1362L240 1414"/>
<path class="o" d="M552 1362L344 1414"/><path class="dK" d="M552 1362L344 1414"/>
<path class="o" d="M188 1414L240 1466"/><path class="dP" d="M188 1414L240 1466"/>
<path class="o" d="M604 1414L552 1466"/><path class="dY" d="M604 1414L552 1466"/>
<path class="o" d="M292 1466L188 1726"/><path class="dY" d="M292 1466L188 1726"/>
<path class="o" d="M344 1466L396 1830"/><path class="dK" d="M344 1466L396 1830"/>
<path class="o" d="M604 1466L84 1726"/><path class="dN" d="M604 1466L84 1726"/>
<path class="o" d="M84 1674L552 1726"/><path class="dP" d="M84 1674L552 1726"/>
<path class="o" d="M136 1726L84 1778"/><path class="dN" d="M136 1726L84 1778"/>
<path class="o" d="M448 1726L500 1778"/><path class="dG" d="M448 1726L500 1778"/>
<path class="o" d="M500 1726L552 1778"/><path class="dY" d="M500 1726L552 1778"/>
<path class="o" d="M136 1778L84 1830"/><path class="dY" d="M136 1778L84 1830"/>
<path class="o" d="M604 1778L656 1830"/><path class="dP" d="M604 1778L656 1830"/>
<path class="o" d="M396 1830L136 1934"/><path class="dK" d="M396 1830L136 1934"/>
<path class="o" d="M292 1882L344 1934"/><path class="dG" d="M292 1882L344 1934"/>
<path class="ot" d="M344 1882L396 1934"/><path class="dW" d="M344 1882L396 1934"/>
<path class="o" d="M448 1934L500 1986"/><path class="dG" d="M448 1934L500 1986"/>
<path class="ot" d="M396 1934L448 1986"/><path class="dW" d="M396 1934L448 1986"/>
<path class="o" d="M396 2038L188 2090"/><path class="dK" d="M396 2038L188 2090"/>
<path class="o" d="M84 2090L136 2142"/><path class="dY" d="M84 2090L136 2142"/>
<path class="o" d="M188 2090L344 2142"/><path class="dK" d="M188 2090L344 2142"/>
<path class="o" d="M292 2090L344 2142"/><path class="dG" d="M292 2090L344 2142"/>
<path class="o" d="M656 2090L604 2142"/><path class="dP" d="M656 2090L604 2142"/>
<path class="ot" d="M344 2090L448 2454"/><path class="dW" d="M344 2090L448 2454"/>
<path class="o" d="M84 2142L136 2194"/><path class="dN" d="M84 2142L136 2194"/>
<path class="o" d="M344 2142L448 2194"/><path class="dK" d="M344 2142L448 2194"/>
<path class="o" d="M552 2142L500 2194"/><path class="dY" d="M552 2142L500 2194"/>
<path class="o" d="M552 2194L84 2246"/><path class="dP" d="M552 2194L84 2246"/>
<path class="o" d="M188 2194L292 2454"/><path class="dY" d="M188 2194L292 2454"/>
<path class="o" d="M396 2194L344 2454"/><path class="dK" d="M396 2194L344 2454"/>
<path class="o" d="M84 2194L604 2454"/><path class="dN" d="M84 2194L604 2454"/>
<path class="o" d="M240 2454L188 2506"/><path class="dP" d="M240 2454L188 2506"/>
<path class="o" d="M552 2454L604 2506"/><path class="dY" d="M552 2454L604 2506"/>
<path class="o" d="M604 2974L84 3234"/><path class="dN" d="M604 2974L84 3234"/>
<path class="o" d="M552 3598L500 3650"/><path class="dY" d="M552 3598L500 3650"/>
<path class="o" d="M604 3650L552 3702"/><path class="dP" d="M604 3650L552 3702"/>
<path class="o" d="M240 3546L292 3598"/><path class="dG" d="M240 3546L292 3598"/>
</g>
</g>
<g id="stublabels" class="sl">
<text x="31" y="66" fill="#fff">E</text><text x="711" y="118" fill="#333" text-anchor="end">C</text><text x="31" y="170" fill="#fff">B</text><text x="711" y="222" fill="#333" text-anchor="end">A</text>
<text x="31" y="3550" fill="#333">A</text><text x="711" y="3602" fill="#fff" text-anchor="end">B</text><text x="711" y="3706" fill="#333" text-anchor="end">C</text><text x="31" y="3758" fill="#fff">E</text>
</g>
<g id="nodes">
<g id="row1" transform="translate(0,62)"><use id="n1_1" href="#P1" x="84"/><use id="n1_2" href="#P1" x="136"/><use id="n1_3" href="#P1" x="188"/><use id="n1_4" href="#P1" x="240"/><use id="n1_5" href="#P1" x="292"/><use id="n1_6" href="#P1" x="344"/><use id="n1_7" href="#P1" x="396"/><use id="n1_8" href="#P1" x="448"/><use id="n1_9" href="#P1" x="500"/><use id="n1_10" href="#P1" x="552"/><use id="n1_11" href="#P1" x="604"/><use id="n1_12" href="#P1" x="656"/></g>
<g id="row2" transform="translate(0,114)"><use id="n2_1" href="#N0" x="84"/><use id="n2_2" href="#N0" x="136"/><use id="n2_3" href="#Y0" x="188"/><use id="n2_4" href="#Y0" x="240"/><use id="n2_5" href="#K0" x="292"/><use id="n2_6" href="#K0" x="344"/><use id="n2_7" href="#Y0" x="396"/><use id="n2_8" href="#P0" x="448"/><use id="n2_9" href="#P0" x="500"/><use id="n2_10" href="#P0" x="552"/><use id="n2_11" href="#P0" x="604"/><use id="n2_12" href="#P0" x="656"/></g>
<g id="row3" transform="translate(0,166)"><use id="n3_1" href="#N1" x="84"/><use id="n3_2" href="#Y1" x="136"/><use id="n3_3" href="#Y1" x="188"/><use id="n3_4" href="#Y1" x="240"/><use id="n3_5" href="#G1" x="292"/><use id="n3_6" href="#G1" x="344"/><use id="n3_7" href="#Y1" x="396"/><use id="n3_8" href="#Y1" x="448"/><use id="n3_9" href="#P1" x="500"/><use id="n3_10" href="#P1" x="552"/><use id="n3_11" href="#P1" x="604"/><use id="n3_12" href="#P1" x="656"/></g>
<g id="row4" transform="translate(0,218)"><use id="n4_1" href="#Y0" x="84"/><use id="n4_2" href="#Y0" x="136"/><use id="n4_3" href="#Y0" x="188"/><use id="n4_4" href="#G0" x="240"/><use id="n4_5" href="#W0" x="292"/><use id="n4_6" href="#W0" x="344"/><use id="n4_7" href="#G0" x="396"/><use id="n4_8" href="#Y0" x="448"/><use id="n4_9" href="#Y0" x="500"/><use id="n4_10" href="#P0" x="552"/><use id="n4_11" href="#P0" x="604"/><use id="n4_12" href="#P0" x="656"/></g>
<g id="row5" transform="translate(0,270)"><use id="n5_1" href="#Y1" x="84"/><use id="n5_2" href="#Y1" x="136"/><use id="n5_3" href="#G1" x="188"/><use id="n5_4" href="#W1" x="240"/><use id="n5_5" href="#K1" x="292"/><use id="n5_6" href="#K1" x="344"/><use id="n5_7" href="#W1" x="396"/><use id="n5_8" href="#G1" x="448"/><use id="n5_9" href="#Y1" x="500"/><use id="n5_10" href="#P1" x="552"/><use id="n5_11" href="#P1" x="604"/><use id="n5_12" href="#P1" x="656"/></g>
<g id="row6" transform="translate(0,322)"><use id="n6_1" href="#Y0" x="84"/><use id="n6_2" href="#Y0" x="136"/><use id="n6_3" href="#G0" x="188"/><use id="n6_4" href="#W0" x="240"/><use id="n6_5" href="#K0" x="292"/><use id="n6_6" href="#K0" x="344"/><use id="n6_7" href="#W0" x="396"/><use id="n6_8" href="#G0" x="448"/><use id="n6_9" href="#Y0" x="500"/><use id="n6_10" href="#P0" x="552"/><use id="n6_11" href="#P0" x="604"/><use id="n6_12" href="#P0" x="656"/></g>
<g id="row7" transform="translate(0,374)"><use id="n7_1" href="#Y1" x="84"/><use id="n7_2" href="#Y1" x="136"/><use id="n7_3" href="#Y1" x="188"/><use id="n7_4" href="#G1" x="240"/><use id="n7_5" href="#W1" x="292"/><use id="n7_6" href="#W1" x="344"/><use id="n7_7" href="#G1" x="396"/><use id="n7_8" href="#Y1" x="448"/><use id="n7_9" href="#Y1" x="500"/><use id="n7_10" href="#P1" x="552"/><use id="n7_11" href="#P1" x="604"/><use id="n7_12" href="#P1" x="656"/></g>
<g id="row8" transform="translate(0,426)"><use id="n8_1" href="#Y0" x="84"/><use id="n8_2" href="#K0" x="136"/><use id="n8_3" href="#Y0" x="188"/><use id="n8_4" href="#Y0" x="240"/><use id="n8_5" href="#G0" x="292"/><use id="n8_6" href="#G0" x="344"/><use id="n8_7" href="#Y0" x="396"/><use id="n8_8" href="#Y0" x="448"/><use id="n8_9" href="#Y0" x="500"/><use id="n8_10" href="#P0" x="552"/><use id="n8_11" href="#P0" x="604"/><use id="n8_12" href="#P0" x="656"/></g>
<g id="row9" transform="translate(0,478)"><use id="n9_1" href="#Y1" x="84"/><use id="n9_2" href="#Y1" x="136"/><use id="n9_3" href="#Y1" x="188"/><use id="n9_4" href="#G1" x="240"/><use id="n9_5" href="#W1" x="292"/><use id="n9_6" href="#W1" x="344"/><use id="n9_7" href="#G1" x="396"/><use id="n9_8" href="#Y1" x="448"/><use id="n9_9" href="#Y1" x="500"/><use id="n9_10" href="#P1" x="552"/><use id="n9_11" href="#P1" x="604"/><use id="n9_12" href="#P1" x="656"/></g>
<g id="row10" transform="translate(0,530)"><use id="n10_1" href="#Y0" x="84"/><use id="n10_2" href="#Y0" x="136"/><use id="n10_3" href="#G0" x="188"/><use id="n10_4" href="#W0" x="240"/><use id="n10_5" href="#K0" x="292"/><use id="n10_6" href="#K0" x="344"/><use id="n10_7" href="#W0" x="396"/><use id="n10_8" href="#G0" x="448"/><use id="n10_9" href="#Y0" x="500"/><use id="n10_10" href="#P0" x="552"/><use id="n10_11" href="#P0" x="604"/><use id="n10_12" href="#P0" x="656"/></g>
<g id="row11" transform="translate(0,582)"><use id="n11_1" href="#Y1" x="84"/><use id="n11_2" href="#Y1" x="136"/><use id="n11_3" href="#G1" x="188"/><use id="n11_4" href="#W1" x="240"/><use id="n11_5" href="#K1" x="292"/><use id="n11_6" href="#K1" x="344"/><use id="n11_7" href="#W1" x="396"/><use id="n11_8" href="#G1" x="448"/><use id="n11_9" href="#Y1" x="500"/><use id="n11_10" href="#P1" x="552"/><use id="n11_11" href="#P1" x="604"/><use id="n11_12" href="#P1" x="656"/></g>
<g id="row12" transform="translate(0,634)"><use id="n12_1" href="#Y0" x="84"/><use id="n12_2" href="#Y0" x="136"/><use id="n12_3" href="#Y0" x="188"/><use id="n12_4" href="#G0" x="240"/><use id="n12_5" href="#W0" x="292"/><use id="n12_6" href="#W0" x="344"/><use id="n12_7" href="#G0" x="396"/><use id="n12_8" href="#Y0" x="448"/><use id="n12_9" href="#Y0" x="500"/><use id="n12_10" href="#P0" x="552"/><use id="n12_11" href="#P0" x="604"/><use id="n12_12" href="#P0" x="656"/></g>
<g id="row13" transform="translate(0,686)"><use id="n13_1" href="#N1" x="84"/><use id="n13_2" href="#Y1" x="136"/><use id="n13_3" href="#Y1" x="188"/><use id="n13_4" href="#Y1" x="240"/><use id="n13_5" href="#G1" x="292"/><use id="n13_6" href="#G1" x="344"/><use id="n13_7" href="#Y1" x="396"/><use id="n13_8" href="#Y1" x="448"/><use id="n13_9" href="#P1" x="500"/><use id="n13_10" href="#P1" x="552"/><use id="n13_11" href="#P1" x="604"/><use id="n13_12" href="#P1" x="656"/></g>
<g id="row14" transform="translate(0,738)"><use id="n14_1" href="#N0" x="84"/><use id="n14_2" href="#N0" x="136"/><use id="n14_3" href="#Y0" x="188"/><use id="n14_4" href="#Y0" x="240"/><use id="n14_5" href="#K0" x="292"/><use id="n14_6" href="#K0" x="344"/><use id="n14_7" href="#Y0" x="396"/><use id="n14_8" href="#P0" x="448"/><use id="n14_9" href="#P0" x="500"/><use id="n14_10" href="#P0" x="552"/><use id="n14_11" href="#P0" x="604"/><use id="n14_12" href="#P0" x="656"/></g>
<g id="row15" transform="translate(0,790)"><use id="n15_1" href="#P1" x="84"/><use id="n15_2" href="#P1" x="136"/><use id="n15_3" href="#P1" x="188"/><use id="n15_4" href="#P1" x="240"/><use id="n15_5" href="#P1" x="292"/><use id="n15_6" href="#P1" x="344"/><use id="n15_7" href="#P1" x="396"/><use id="n15_8" href="#P1" x="448"/><use id="n15_9" href="#P1" x="500"/><use id="n15_10" href="#P1" x="552"/><use id="n15_11" href="#P1" x="604"/><use id="n15_12" href="#P1" x="656"/></g>
<g id="row16" transform="translate(0,842)"><use id="n16_1" href="#P0" x="84"/><use id="n16_2" href="#P0" x="136"/><use id="n16_3" href="#P0" x="188"/><use id="n16_4" href="#P0" x="240"/><use id="n16_5" href="#P0" x="292"/><use id="n16_6" href="#P0" x="344"/><use id="n16_7" href="#P0" x="396"/><use id="n16_8" href="#P0" x="448"/><use id="n16_9" href="#P0" x="500"/><use id="n16_10" href="#P0" x="552"/><use id="n16_11" href="#P0" x="604"/><use id="n16_12" href="#P0" x="656"/></g>
<g id="row17" transform="translate(0,894)"><use id="n17_1" href="#P1" x="84"/><use id="n17_2" href="#P1" x="136"/><use id="n17_3" href="#P1" x="188"/><use id="n17_4" href="#P1" x="240"/><use id="n17_5" href="#P1" x="292"/><use id="n17_6" href="#P1" x="344"/><use id="n17_7" href="#P1" x="396"/><use id="n17_8" href="#P1" x="448"/><use id="n17_9" href="#P1" x="500"/><use id="n17_10" href="#P1" x="552"/><use id="n17_11" href="#P1" x="604"/><use id="n17_12" href="#P1" x="656"/></g>
<g id="row18" transform="translate(0,946)"><use id="n18_1" href="#P0" x="84"/><use id="n18_2" href="#P0" x="136"/><use id="n18_3" href="#P0" x="188"/><use id="n18_4" href="#P0" x="240"/><use id="n18_5" href="#P0" x="292"/><use id="n18_6" href="#P0" x="344"/><use id="n18_7" href="#P0" x="396"/><use id="n18_8" href="#P0" x="448"/><use id="n18_9" href="#P0" x="500"/><use id="n18_10" href="#P0" x="552"/><use id="n18_11" href="#P0" x="604"/><use id="n18_12" href="#P0" x="656"/></g>
<g id="row19" transform="translate(0,998)"><use id="n19_1" href="#P1" x="84"/><use id="n19_2" href="#P1" x="136"/><use id="n19_3" href="#P1" x="188"/><use id="n19_4" href="#P1" x="240"/><use id="n19_5" href="#Y1" x="292"/><use id="n19_6" href="#K1" x="344"/><use id="n19_7" href="#K1" x="396"/><use id="n19_8" href="#Y1" x="448"/><use id="n19_9" href="#Y1" x="500"/><use id="n19_10" href="#Y1" x="552"/><use id="n19_11" href="#N1" x="604"/><use id="n19_12" href="#N1" x="656"/></g>
<g id="row20" transform="translate(0,1050)"><use id="n20_1" href="#P0" x="84"/><use id="n20_2" href="#P0" x="136"/><use id="n20_3" href="#P0" x="188"/><use id="n20_4" href="#Y0" x="240"/><use id="n20_5" href="#Y0" x="292"/><use id="n20_6" href="#K0" x="344"/><use id="n20_7" href="#K0" x="396"/><use id="n20_8" href="#Y0" x="448"/><use id="n20_9" href="#Y0" x="500"/><use id="n20_10" href="#Y0" x="552"/><use id="n20_11" href="#Y0" x="604"/><use id="n20_12" href="#N0" x="656"/></g>
<g id="row21" transform="translate(0,1102)"><use id="n21_1" href="#P1" x="84"/><use id="n21_2" href="#P1" x="136"/><use id="n21_3" href="#Y1" x="188"/><use id="n21_4" href="#Y1" x="240"/><use id="n21_5" href="#Y1" x="292"/><use id="n21_6" href="#G1" x="344"/><use id="n21_7" href="#G1" x="396"/><use id="n21_8" href="#Y1" x="448"/><use id="n21_9" href="#Y1" x="500"/><use id="n21_10" href="#K1" x="552"/><use id="n21_11" href="#Y1" x="604"/><use id="n21_12" href="#Y1" x="656"/></g>
<g id="row22" transform="translate(0,1154)"><use id="n22_1" href="#P0" x="84"/><use id="n22_2" href="#P0" x="136"/><use id="n22_3" href="#Y0" x="188"/><use id="n22_4" href="#Y0" x="240"/><use id="n22_5" href="#G0" x="292"/><use id="n22_6" href="#W0" x="344"/><use id="n22_7" href="#W0" x="396"/><use id="n22_8" href="#G0" x="448"/><use id="n22_9" href="#Y0" x="500"/><use id="n22_10" href="#Y0" x="552"/><use id="n22_11" href="#K0" x="604"/><use id="n22_12" href="#Y0" x="656"/></g>
<g id="row23" transform="translate(0,1206)"><use id="n23_1" href="#P1" x="84"/><use id="n23_2" href="#P1" x="136"/><use id="n23_3" href="#Y1" x="188"/><use id="n23_4" href="#G1" x="240"/><use id="n23_5" href="#W1" x="292"/><use id="n23_6" href="#K1" x="344"/><use id="n23_7" href="#K1" x="396"/><use id="n23_8" href="#W1" x="448"/><use id="n23_9" href="#G1" x="500"/><use id="n23_10" href="#Y1" x="552"/><use id="n23_11" href="#K1" x="604"/><use id="n23_12" href="#Y1" x="656"/></g>
<g id="row24" transform="translate(0,1258)"><use id="n24_1" href="#P0" x="84"/><use id="n24_2" href="#P0" x="136"/><use id="n24_3" href="#Y0" x="188"/><use id="n24_4" href="#G0" x="240"/><use id="n24_5" href="#W0" x="292"/><use id="n24_6" href="#K0" x="344"/><use id="n24_7" href="#K0" x="396"/><use id="n24_8" href="#W0" x="448"/><use id="n24_9" href="#G0" x="500"/><use id="n24_10" href="#Y0" x="552"/><use id="n24_11" href="#K0" x="604"/><use id="n24_12" href="#Y0" x="656"/></g>
<g id="row25" transform="translate(0,1310)"><use id="n25_1" href="#P1" x="84"/><use id="n25_2" href="#P1" x="136"/><use id="n25_3" href="#Y1" x="188"/><use id="n25_4" href="#Y1" x="240"/><use id="n25_5" href="#G1" x="292"/><use id="n25_6" href="#W1" x="344"/><use id="n25_7" href="#W1" x="396"/><use id="n25_8" href="#G1" x="448"/><use id="n25_9" href="#Y1" x="500"/><use id="n25_10" href="#Y1" x="552"/><use id="n25_11" href="#K1" x="604"/><use id="n25_12" href="#Y1" x="656"/></g>
<g id="row26" transform="translate(0,1362)"><use id="n26_1" href="#P0" x="84"/><use id="n26_2" href="#P0" x="136"/><use id="n26_3" href="#Y0" x="188"/><use id="n26_4" href="#Y0" x="240"/><use id="n26_5" href="#Y0" x="292"/><use id="n26_6" href="#G0" x="344"/><use id="n26_7" href="#G0" x="396"/><use id="n26_8" href="#Y0" x="448"/><use id="n26_9" href="#Y0" x="500"/><use id="n26_10" href="#K0" x="552"/><use id="n26_11" href="#Y0" x="604"/><use id="n26_12" href="#Y0" x="656"/></g>
<g id="row27" transform="translate(0,1414)"><use id="n27_1" href="#P1" x="84"/><use id="n27_2" href="#P1" x="136"/><use id="n27_3" href="#P1" x="188"/><use id="n27_4" href="#Y1" x="240"/><use id="n27_5" href="#Y1" x="292"/><use id="n27_6" href="#K1" x="344"/><use id="n27_7" href="#K1" x="396"/><use id="n27_8" href="#Y1" x="448"/><use id="n27_9" href="#Y1" x="500"/><use id="n27_10" href="#Y1" x="552"/><use id="n27_11" href="#Y1" x="604"/><use id="n27_12" href="#N1" x="656"/></g>
<g id="row28" transform="translate(0,1466)"><use id="n28_1" href="#P0" x="84"/><use id="n28_2" href="#P0" x="136"/><use id="n28_3" href="#P0" x="188"/><use id="n28_4" href="#P0" x="240"/><use id="n28_5" href="#Y0" x="292"/><use id="n28_6" href="#K0" x="344"/><use id="n28_7" href="#K0" x="396"/><use id="n28_8" href="#Y0" x="448"/><use id="n28_9" href="#Y0" x="500"/><use id="n28_10" href="#Y0" x="552"/><use id="n28_11" href="#N0" x="604"/><use id="n28_12" href="#N0" x="656"/></g>
<g id="row29" transform="translate(0,1518)"><use id="n29_1" href="#P1" x="84"/><use id="n29_2" href="#P1" x="136"/><use id="n29_3" href="#P1" x="188"/><use id="n29_4" href="#P1" x="240"/><use id="n29_5" href="#P1" x="292"/><use id="n29_6" href="#P1" x="344"/><use id="n29_7" href="#P1" x="396"/><use id="n29_8" href="#P1" x="448"/><use id="n29_9" href="#P1" x="500"/><use id="n29_10" href="#P1" x="552"/><use id="n29_11" href="#P1" x="604"/><use id="n29_12" href="#P1" x="656"/></g>
<g id="row30" transform="translate(0,1570)"><use id="n30_1" href="#P0" x="84"/><use id="n30_2" href="#P0" x="136"/><use id="n30_3" href="#P0" x="188"/><use id="n30_4" href="#P0" x="240"/><use id="n30_5" href="#P0" x="292"/><use id="n30_6" href="#P0" x="344"/><use id="n30_7" href="#P0" x="396"/><use id="n30_8" href="#P0" x="448"/><use id="n30_9" href="#P0" x="500"/><use id="n30_10" href="#P0" x="552"/><use id="n30_11" href="#P0" x="604"/><use id="n30_12" href="#P0" x="656"/></g>
<g id="row31" transform="translate(0,1622)"><use id="n31_1" href="#P1" x="84"/><use id="n31_2" href="#P1" x="136"/><use id="n31_3" href="#P1" x="188"/><use id="n31_4" href="#P1" x="240"/><use id="n31_5" href="#P1" x="292"/><use id="n31_6" href="#P1" x="344"/><use id="n31_7" href="#P1" x="396"/><use id="n31_8" href="#P1" x="448"/><use id="n31_9" href="#P1" x="500"/><use id="n31_10" href="#P1" x="552"/><use id="n31_11" href="#P1" x="604"/><use id="n31_12" href="#P1" x="656"/></g>
<g id="row32" transform="translate(0,1674)"><use id="n32_1" href="#P0" x="84"/><use id="n32_2" href="#P0" x="136"/><use id="n32_3" href="#P0" x="188"/><use id="n32_4" href="#P0" x="240"/><use id="n32_5" href="#P0" x="292"/><use id="n32_6" href="#P0" x="344"/><use id="n32_7" href="#P0" x="396"/><use id="n32_8" href="#P0" x="448"/><use id="n32_9" href="#P0" x="500"/><use id="n32_10" href="#P0" x="552"/><use id="n32_11" href="#P0" x="604"/><use id="n32_12" href="#P0" x="656"/></g>
<g id="row33" transform="translate(0,1726)"><use id="n33_1" href="#N1" x="84"/><use id="n33_2" href="#N1" x="136"/><use id="n33_3" href="#Y1" x="188"/><use id="n33_4" href="#Y1" x="240"/><use id="n33_5" href="#Y1" x="292"/><use id="n33_6" href="#G1" x="344"/><use id="n33_7" href="#G1" x="396"/><use id="n33_8" href="#G1" x="448"/><use id="n33_9" href="#Y1" x="500"/><use id="n33_10" href="#P1" x="552"/><use id="n33_11" href="#P1" x="604"/><use id="n33_12" href="#P1" x="656"/></g>
<g id="row34" transform="translate(0,1778)"><use id="n34_1" href="#N0" x="84"/><use id="n34_2" href="#Y0" x="136"/><use id="n34_3" href="#Y0" x="188"/><use id="n34_4" href="#Y0" x="240"/><use id="n34_5" href="#G0" x="292"/><use id="n34_6" href="#W0" x="344"/><use id="n34_7" href="#W0" x="396"/><use id="n34_8" href="#W0" x="448"/><use id="n34_9" href="#G0" x="500"/><use id="n34_10" href="#Y0" x="552"/><use id="n34_11" href="#P0" x="604"/><use id="n34_12" href="#P0" x="656"/></g>
<g id="row35" transform="translate(0,1830)"><use id="n35_1" href="#Y1" x="84"/><use id="n35_2" href="#Y1" x="136"/><use id="n35_3" href="#Y1" x="188"/><use id="n35_4" href="#Y1" x="240"/><use id="n35_5" href="#G1" x="292"/><use id="n35_6" href="#W1" x="344"/><use id="n35_7" href="#K1" x="396"/><use id="n35_8" href="#W1" x="448"/><use id="n35_9" href="#G1" x="500"/><use id="n35_10" href="#Y1" x="552"/><use id="n35_11" href="#Y1" x="604"/><use id="n35_12" href="#P1" x="656"/></g>
<g id="row36" transform="translate(0,1882)"><use id="n36_1" href="#Y0" x="84"/><use id="n36_2" href="#Y0" x="136"/><use id="n36_3" href="#Y0" x="188"/><use id="n36_4" href="#Y0" x="240"/><use id="n36_5" href="#G0" x="292"/><use id="n36_6" href="#W0" x="344"/><use id="n36_7" href="#W0" x="396"/><use id="n36_8" href="#W0" x="448"/><use id="n36_9" href="#G0" x="500"/><use id="n36_10" href="#Y0" x="552"/><use id="n36_11" href="#Y0" x="604"/><use id="n36_12" href="#P0" x="656"/></g>
<g id="row37" transform="translate(0,1934)"><use id="n37_1" href="#Y1" x="84"/><use id="n37_2" href="#K1" x="136"/><use id="n37_3" href="#Y1" x="188"/><use id="n37_4" href="#Y1" x="240"/><use id="n37_5" href="#Y1" x="292"/><use id="n37_6" href="#G1" x="344"/><use id="n37_7" href="#G1" x="396"/><use id="n37_8" href="#G1" x="448"/><use id="n37_9" href="#Y1" x="500"/><use id="n37_10" href="#Y1" x="552"/><use id="n37_11" href="#Y1" x="604"/><use id="n37_12" href="#P1" x="656"/></g>
<g id="row38" transform="translate(0,1986)"><use id="n38_1" href="#Y0" x="84"/><use id="n38_2" href="#K0" x="136"/><use id="n38_3" href="#Y0" x="188"/><use id="n38_4" href="#Y0" x="240"/><use id="n38_5" href="#G0" x="292"/><use id="n38_6" href="#W0" x="344"/><use id="n38_7" href="#W0" x="396"/><use id="n38_8" href="#W0" x="448"/><use id="n38_9" href="#G0" x="500"/><use id="n38_10" href="#Y0" x="552"/><use id="n38_11" href="#Y0" x="604"/><use id="n38_12" href="#P0" x="656"/></g>
<g id="row39" transform="translate(0,2038)"><use id="n39_1" href="#Y1" x="84"/><use id="n39_2" href="#K1" x="136"/><use id="n39_3" href="#Y1" x="188"/><use id="n39_4" href="#Y1" x="240"/><use id="n39_5" href="#G1" x="292"/><use id="n39_6" href="#W1" x="344"/><use id="n39_7" href="#K1" x="396"/><use id="n39_8" href="#W1" x="448"/><use id="n39_9" href="#G1" x="500"/><use id="n39_10" href="#Y1" x="552"/><use id="n39_11" href="#Y1" x="604"/><use id="n39_12" href="#P1" x="656"/></g>
<g id="row40" transform="translate(0,2090)"><use id="n40_1" href="#Y0" x="84"/><use id="n40_2" href="#Y0" x="136"/><use id="n40_3" href="#K0" x="188"/><use id="n40_4" href="#Y0" x="240"/><use id="n40_5" href="#G0" x="292"/><use id="n40_6" href="#W0" x="344"/><use id="n40_7" href="#W0" x="396"/><use id="n40_8" href="#W0" x="448"/><use id="n40_9" href="#G0" x="500"/><use id="n40_10" href="#Y0" x="552"/><use id="n40_11" href="#Y0" x="604"/><use id="n40_12" href="#P0" x="656"/></g>
<g id="row41" transform="translate(0,2142)"><use id="n41_1" href="#N1" x="84"/><use id="n41_2" href="#Y1" x="136"/><use id="n41_3" href="#Y1" x="188"/><use id="n41_4" href="#Y1" x="240"/><use id="n41_5" href="#Y1" x="292"/><use id="n41_6" href="#G1" x="344"/><use id="n41_7" href="#G1" x="396"/><use id="n41_8" href="#G1" x="448"/><use id="n41_9" href="#Y1" x="500"/><use id="n41_10" href="#Y1" x="552"/><use id="n41_11" href="#P1" x="604"/><use id="n41_12" href="#P1" x="656"/></g>
<g id="row42" transform="translate(0,2194)"><use id="n42_1" href="#N0" x="84"/><use id="n42_2" href="#N0" x="136"/><use id="n42_3" href="#Y0" x="188"/><use id="n42_4" href="#Y0" x="240"/><use id="n42_5" href="#Y0" x="292"/><use id="n42_6" href="#Y0" x="344"/><use id="n42_7" href="#K0" x="396"/><use id="n42_8" href="#K0" x="448"/><use id="n42_9" href="#Y0" x="500"/><use id="n42_10" href="#P0" x="552"/><use id="n42_11" href="#P0" x="604"/><use id="n42_12" href="#P0" x="656"/></g>
<g id="row43" transform="translate(0,2246)"><use id="n43_1" href="#P1" x="84"/><use id="n43_2" href="#P1" x="136"/><use id="n43_3" href="#P1" x="188"/><use id="n43_4" href="#P1" x="240"/><use id="n43_5" href="#P1" x="292"/><use id="n43_6" href="#P1" x="344"/><use id="n43_7" href="#P1" x="396"/><use id="n43_8" href="#P1" x="448"/><use id="n43_9" href="#P1" x="500"/><use id="n43_10" href="#P1" x="552"/><use id="n43_11" href="#P1" x="604"/><use id="n43_12" href="#P1" x="656"/></g>
<g id="row44" transform="translate(0,2298)"><use id="n44_1" href="#P0" x="84"/><use id="n44_2" href="#P0" x="136"/><use id="n44_3" href="#P0" x="188"/><use id="n44_4" href="#P0" x="240"/><use id="n44_5" href="#P0" x="292"/><use id="n44_6" href="#P0" x="344"/><use id="n44_7" href="#P0" x="396"/><use id="n44_8" href="#P0" x="448"/><use id="n44_9" href="#P0" x="500"/><use id="n44_10" href="#P0" x="552"/><use id="n44_11" href="#P0" x="604"/><use id="n44_12" href="#P0" x="656"/></g>
<g id="row45" transform="translate(0,2350)"><use id="n45_1" href="#P1" x="84"/><use id="n45_2" href="#P1" x="136"/><use id="n45_3" href="#P1" x="188"/><use id="n45_4" href="#P1" x="240"/><use id="n45_5" href="#P1" x="292"/><use id="n45_6" href="#P1" x="344"/><use id="n45_7" href="#P1" x="396"/><use id="n45_8" href="#P1" x="448"/><use id="n45_9" href="#P1" x="500"/><use id="n45_10" href="#P1" x="552"/><use id="n45_11" href="#P1" x="604"/><use id="n45_12" href="#P1" x="656"/></g>
<g id="row46" transform="translate(0,2402)"><use id="n46_1" href="#P0" x="84"/><use id="n46_2" href="#P0" x="136"/><use id="n46_3" href="#P0" x="188"/><use id="n46_4" href="#P0" x="240"/><use id="n46_5" href="#P0" x="292"/><use id="n46_6" href="#P0" x="344"/><use id="n46_7" href="#P0" x="396"/><use id="n46_8" href="#P0" x="448"/><use id="n46_9" href="#P0" x="500"/><use id="n46_10" href="#P0" x="552"/><use id="n46_11" href="#P0" x="604"/><use id="n46_12" href="#P0" x="656"/></g>
<g id="row47" transform="translate(0,2454)"><use id="n47_1" href="#P1" x="84"/><use id="n47_2" href="#P1" x="136"/><use id="n47_3" href="#P1" x="188"/><use id="n47_4" href="#P1" x="240"/><use id="n47_5" href="#Y1" x="292"/><use id="n47_6" href="#K1" x="344"/><use id="n47_7" href="#K1" x="396"/><use id="n47_8" href="#Y1" x="448"/><use id="n47_9" href="#Y1" x="500"/><use id="n47_10" href="#Y1" x="552"/><use id="n47_11" href="#N1" x="604"/><use id="n47_12" href="#N1" x="656"/></g>
<g id="row48" transform="translate(0,2506)"><use id="n48_1" href="#P0" x="84"/><use id="n48_2" href="#P0" x="136"/><use id="n48_3" href="#P0" x="188"/><use id="n48_4" href="#Y0" x="240"/><use id="n48_5" href="#Y0" x="292"/><use id="n48_6" href="#G0" x="344"/><use id="n48_7" href="#G0" x="396"/><use id="n48_8" href="#G0" x="448"/><use id="n48_9" href="#Y0" x="500"/><use id="n48_10" href="#Y0" x="552"/><use id="n48_11" href="#Y0" x="604"/><use id="n48_12" href="#N0" x="656"/></g>
<g id="row49" transform="translate(0,2558)"><use id="n49_1" href="#P1" x="84"/><use id="n49_2" href="#P1" x="136"/><use id="n49_3" href="#Y1" x="188"/><use id="n49_4" href="#Y1" x="240"/><use id="n49_5" href="#G1" x="292"/><use id="n49_6" href="#K1" x="344"/><use id="n49_7" href="#K1" x="396"/><use id="n49_8" href="#G1" x="448"/><use id="n49_9" href="#Y1" x="500"/><use id="n49_10" href="#Y1" x="552"/><use id="n49_11" href="#Y1" x="604"/><use id="n49_12" href="#N1" x="656"/></g>
<g id="row50" transform="translate(0,2610)"><use id="n50_1" href="#P0" x="84"/><use id="n50_2" href="#P0" x="136"/><use id="n50_3" href="#Y0" x="188"/><use id="n50_4" href="#G0" x="240"/><use id="n50_5" href="#W0" x="292"/><use id="n50_6" href="#K0" x="344"/><use id="n50_7" href="#K0" x="396"/><use id="n50_8" href="#W0" x="448"/><use id="n50_9" href="#G0" x="500"/><use id="n50_10" href="#Y0" x="552"/><use id="n50_11" href="#Y0" x="604"/><use id="n50_12" href="#N0" x="656"/></g>
<g id="row51" transform="translate(0,2662)"><use id="n51_1" href="#P1" x="84"/><use id="n51_2" href="#P1" x="136"/><use id="n51_3" href="#Y1" x="188"/><use id="n51_4" href="#G1" x="240"/><use id="n51_5" href="#W1" x="292"/><use id="n51_6" href="#W1" x="344"/><use id="n51_7" href="#W1" x="396"/><use id="n51_8" href="#W1" x="448"/><use id="n51_9" href="#G1" x="500"/><use id="n51_10" href="#K1" x="552"/><use id="n51_11" href="#Y1" x="604"/><use id="n51_12" href="#Y1" x="656"/></g>
<g id="row52" transform="translate(0,2714)"><use id="n52_1" href="#P0" x="84"/><use id="n52_2" href="#P0" x="136"/><use id="n52_3" href="#Y0" x="188"/><use id="n52_4" href="#G0" x="240"/><use id="n52_5" href="#W0" x="292"/><use id="n52_6" href="#K0" x="344"/><use id="n52_7" href="#K0" x="396"/><use id="n52_8" href="#W0" x="448"/><use id="n52_9" href="#G0" x="500"/><use id="n52_10" href="#K0" x="552"/><use id="n52_11" href="#Y0" x="604"/><use id="n52_12" href="#Y0" x="656"/></g>
<g id="row53" transform="translate(0,2766)"><use id="n53_1" href="#P1" x="84"/><use id="n53_2" href="#P1" x="136"/><use id="n53_3" href="#Y1" x="188"/><use id="n53_4" href="#G1" x="240"/><use id="n53_5" href="#W1" x="292"/><use id="n53_6" href="#W1" x="344"/><use id="n53_7" href="#W1" x="396"/><use id="n53_8" href="#W1" x="448"/><use id="n53_9" href="#G1" x="500"/><use id="n53_10" href="#K1" x="552"/><use id="n53_11" href="#Y1" x="604"/><use id="n53_12" href="#Y1" x="656"/></g>
<g id="row54" transform="translate(0,2818)"><use id="n54_1" href="#P0" x="84"/><use id="n54_2" href="#P0" x="136"/><use id="n54_3" href="#Y0" x="188"/><use id="n54_4" href="#Y0" x="240"/><use id="n54_5" href="#G0" x="292"/><use id="n54_6" href="#W0" x="344"/><use id="n54_7" href="#W0" x="396"/><use id="n54_8" href="#G0" x="448"/><use id="n54_9" href="#K0" x="500"/><use id="n54_10" href="#Y0" x="552"/><use id="n54_11" href="#Y0" x="604"/><use id="n54_12" href="#Y0" x="656"/></g>
<g id="row55" transform="translate(0,2870)"><use id="n55_1" href="#P1" x="84"/><use id="n55_2" href="#P1" x="136"/><use id="n55_3" href="#Y1" x="188"/><use id="n55_4" href="#Y1" x="240"/><use id="n55_5" href="#G1" x="292"/><use id="n55_6" href="#G1" x="344"/><use id="n55_7" href="#G1" x="396"/><use id="n55_8" href="#G1" x="448"/><use id="n55_9" href="#K1" x="500"/><use id="n55_10" href="#Y1" x="552"/><use id="n55_11" href="#Y1" x="604"/><use id="n55_12" href="#Y1" x="656"/></g>
<g id="row56" transform="translate(0,2922)"><use id="n56_1" href="#P0" x="84"/><use id="n56_2" href="#P0" x="136"/><use id="n56_3" href="#P0" x="188"/><use id="n56_4" href="#Y0" x="240"/><use id="n56_5" href="#Y0" x="292"/><use id="n56_6" href="#K0" x="344"/><use id="n56_7" href="#K0" x="396"/><use id="n56_8" href="#Y0" x="448"/><use id="n56_9" href="#Y0" x="500"/><use id="n56_10" href="#K0" x="552"/><use id="n56_11" href="#Y0" x="604"/><use id="n56_12" href="#N0" x="656"/></g>
<g id="row57" transform="translate(0,2974)"><use id="n57_1" href="#P1" x="84"/><use id="n57_2" href="#P1" x="136"/><use id="n57_3" href="#P1" x="188"/><use id="n57_4" href="#P1" x="240"/><use id="n57_5" href="#Y1" x="292"/><use id="n57_6" href="#K1" x="344"/><use id="n57_7" href="#K1" x="396"/><use id="n57_8" href="#Y1" x="448"/><use id="n57_9" href="#Y1" x="500"/><use id="n57_10" href="#Y1" x="552"/><use id="n57_11" href="#N1" x="604"/><use id="n57_12" href="#N1" x="656"/></g>
<g id="row58" transform="translate(0,3026)"><use id="n58_1" href="#P0" x="84"/><use id="n58_2" href="#P0" x="136"/><use id="n58_3" href="#P0" x="188"/><use id="n58_4" href="#P0" x="240"/><use id="n58_5" href="#P0" x="292"/><use id="n58_6" href="#P0" x="344"/><use id="n58_7" href="#P0" x="396"/><use id="n58_8" href="#P0" x="448"/><use id="n58_9" href="#P0" x="500"/><use id="n58_10" href="#P0" x="552"/><use id="n58_11" href="#P0" x="604"/><use id="n58_12" href="#P0" x="656"/></g>
<g id="row59" transform="translate(0,3078)"><use id="n59_1" href="#P1" x="84"/><use id="n59_2" href="#P1" x="136"/><use id="n59_3" href="#P1" x="188"/><use id="n59_4" href="#P1" x="240"/><use id="n59_5" href="#P1" x="292"/><use id="n59_6" href="#P1" x="344"/><use id="n59_7" href="#P1" x="396"/><use id="n59_8" href="#P1" x="448"/><use id="n59_9" href="#P1" x="500"/><use id="n59_10" href="#P1" x="552"/><use id="n59_11" href="#P1" x="604"/><use id="n59_12" href="#P1" x="656"/></g>
<g id="row60" transform="translate(0,3130)"><use id="n60_1" href="#P0" x="84"/><use id="n60_2" href="#P0" x="136"/><use id="n60_3" href="#P0" x="188"/><use id="n60_4" href="#P0" x="240"/><use id="n60_5" href="#P0" x="292"/><use id="n60_6" href="#P0" x="344"/><use id="n60_7" href="#P0" x="396"/><use id="n60_8" href="#P0" x="448"/><use id="n60_9" href="#P0" x="500"/><use id="n60_10" href="#P0" x="552"/><use id="n60_11" href="#P0" x="604"/><use id="n60_12" href="#P0" x="656"/></g>
<g id="row61" transform="translate(0,3182)"><use id="n61_1" href="#P1" x="84"/><use id="n61_2" href="#P1" x="136"/><use id="n61_3" href="#P1" x="188"/><use id="n61_4" href="#P1" x="240"/><use id="n61_5" href="#P1" x="292"/><use id="n61_6" href="#P1" x="344"/><use id="n61_7" href="#P1" x="396"/><use id="n61_8" href="#P1" x="448"/><use id="n61_9" href="#P1" x="500"/><use id="n61_10" href="#P1" x="552"/><use id="n61_11" href="#P1" x="604"/><use id="n61_12" href="#P1" x="656"/></g>
<g id="row62" transform="translate(0,3234)"><use id="n62_1" href="#N0" x="84"/><use id="n62_2" href="#P0" x="136"/><use id="n62_3" href="#P0" x="188"/><use id="n62_4" href="#P0" x="240"/><use id="n62_5" href="#P0" x="292"/><use id="n62_6" href="#P0" x="344"/><use id="n62_7" href="#P0" x="396"/><use id="n62_8" href="#P0" x="448"/><use id="n62_9" href="#P0" x="500"/><use id="n62_10" href="#P0" x="552"/><use id="n62_11" href="#P0" x="604"/><use id="n62_12" href="#P0" x="656"/></g>
<g id="row63" transform="translate(0,3286)"><use id="n63_1" href="#N1" x="84"/><use id="n63_2" href="#N1" x="136"/><use id="n63_3" href="#Y1" x="188"/><use id="n63_4" href="#Y1" x="240"/><use id="n63_5" href="#Y1" x="292"/><use id="n63_6" href="#Y1" x="344"/><use id="n63_7" href="#Y1" x="396"/><use id="n63_8" href="#Y1" x="448"/><use id="n63_9" href="#Y1" x="500"/><use id="n63_10" href="#P1" x="552"/><use id="n63_11" href="#P1" x="604"/><use id="n63_12" href="#P1" x="656"/></g>
<g id="row64" transform="translate(0,3338)"><use id="n64_1" href="#Y0" x="84"/><use id="n64_2" href="#Y0" x="136"/><use id="n64_3" href="#Y0" x="188"/><use id="n64_4" href="#G0" x="240"/><use id="n64_5" href="#W0" x="292"/><use id="n64_6" href="#W0" x="344"/><use id="n64_7" href="#G0" x="396"/><use id="n64_8" href="#Y0" x="448"/><use id="n64_9" href="#Y0" x="500"/><use id="n64_10" href="#P0" x="552"/><use id="n64_11" href="#P0" x="604"/><use id="n64_12" href="#P0" x="656"/></g>
<g id="row65" transform="translate(0,3390)"><use id="n65_1" href="#Y1" x="84"/><use id="n65_2" href="#K1" x="136"/><use id="n65_3" href="#G1" x="188"/><use id="n65_4" href="#W1" x="240"/><use id="n65_5" href="#K1" x="292"/><use id="n65_6" href="#K1" x="344"/><use id="n65_7" href="#W1" x="396"/><use id="n65_8" href="#G1" x="448"/><use id="n65_9" href="#Y1" x="500"/><use id="n65_10" href="#P1" x="552"/><use id="n65_11" href="#P1" x="604"/><use id="n65_12" href="#P1" x="656"/></g>
<g id="row66" transform="translate(0,3442)"><use id="n66_1" href="#Y0" x="84"/><use id="n66_2" href="#K0" x="136"/><use id="n66_3" href="#Y0" x="188"/><use id="n66_4" href="#G0" x="240"/><use id="n66_5" href="#W0" x="292"/><use id="n66_6" href="#W0" x="344"/><use id="n66_7" href="#G0" x="396"/><use id="n66_8" href="#Y0" x="448"/><use id="n66_9" href="#Y0" x="500"/><use id="n66_10" href="#P0" x="552"/><use id="n66_11" href="#P0" x="604"/><use id="n66_12" href="#P0" x="656"/></g>
<g id="row67" transform="translate(0,3494)"><use id="n67_1" href="#Y1" x="84"/><use id="n67_2" href="#K1" x="136"/><use id="n67_3" href="#G1" x="188"/><use id="n67_4" href="#W1" x="240"/><use id="n67_5" href="#K1" x="292"/><use id="n67_6" href="#K1" x="344"/><use id="n67_7" href="#W1" x="396"/><use id="n67_8" href="#G1" x="448"/><use id="n67_9" href="#Y1" x="500"/><use id="n67_10" href="#P1" x="552"/><use id="n67_11" href="#P1" x="604"/><use id="n67_12" href="#P1" x="656"/></g>
<g id="row68" transform="translate(0,3546)"><use id="n68_1" href="#Y0" x="84"/><use id="n68_2" href="#Y0" x="136"/><use id="n68_3" href="#Y0" x="188"/><use id="n68_4" href="#G0" x="240"/><use id="n68_5" href="#W0" x="292"/><use id="n68_6" href="#W0" x="344"/><use id="n68_7" href="#K0" x="396"/><use id="n68_8" href="#Y0" x="448"/><use id="n68_9" href="#G0" x="500"/><use id="n68_10" href="#Y0" x="552"/><use id="n68_11" href="#Y0" x="604"/><use id="n68_12" href="#P0" x="656"/></g>
<g id="row69" transform="translate(0,3598)"><use id="n69_1" href="#Y1" x="84"/><use id="n69_2" href="#Y1" x="136"/><use id="n69_3" href="#Y1" x="188"/><use id="n69_4" href="#Y1" x="240"/><use id="n69_5" href="#G1" x="292"/><use id="n69_6" href="#G1" x="344"/><use id="n69_7" href="#G1" x="396"/><use id="n69_8" href="#G1" x="448"/><use id="n69_9" href="#Y1" x="500"/><use id="n69_10" href="#Y1" x="552"/><use id="n69_11" href="#Y1" x="604"/><use id="n69_12" href="#P1" x="656"/></g>
<g id="row70" transform="translate(0,3650)"><use id="n70_1" href="#N0" x="84"/><use id="n70_2" href="#Y0" x="136"/><use id="n70_3" href="#Y0" x="188"/><use id="n70_4" href="#Y0" x="240"/><use id="n70_5" href="#Y0" x="292"/><use id="n70_6" href="#K0" x="344"/><use id="n70_7" href="#K0" x="396"/><use id="n70_8" href="#Y0" x="448"/><use id="n70_9" href="#Y0" x="500"/><use id="n70_10" href="#Y0" x="552"/><use id="n70_11" href="#P0" x="604"/><use id="n70_12" href="#P0" x="656"/></g>
<g id="row71" transform="translate(0,3702)"><use id="n71_1" href="#N1" x="84"/><use id="n71_2" href="#Y1" x="136"/><use id="n71_3" href="#Y1" x="188"/><use id="n71_4" href="#Y1" x="240"/><use id="n71_5" href="#Y1" x="292"/><use id="n71_6" href="#K1" x="344"/><use id="n71_7" href="#K1" x="396"/><use id="n71_8" href="#Y1" x="448"/><use id="n71_9" href="#Y1" x="500"/><use id="n71_10" href="#P1" x="552"/><use id="n71_11" href="#P1" x="604"/><use id="n71_12" href="#P1" x="656"/></g>
<g id="row72" transform="translate(0,3754)"><use id="n72_1" href="#P0" x="84"/><use id="n72_2" href="#P0" x="136"/><use id="n72_3" href="#P0" x="188"/><use id="n72_4" href="#P0" x="240"/><use id="n72_5" href="#P0" x="292"/><use id="n72_6" href="#P0" x="344"/><use id="n72_7" href="#P0" x="396"/><use id="n72_8" href="#P0" x="448"/><use id="n72_9" href="#P0" x="500"/><use id="n72_10" href="#P0" x="552"/><use id="n72_11" href="#P0" x="604"/><use id="n72_12" href="#P0" x="656"/></g>
</g>
<text x="372" y="1915" text-anchor="middle" font-family="Liberation Sans, Arial, sans-serif" font-size="14" font-weight="bold" fill="#555" stroke="#fff" stroke-width="0.6">BRACELETBOOK.COM</text>
</svg>
